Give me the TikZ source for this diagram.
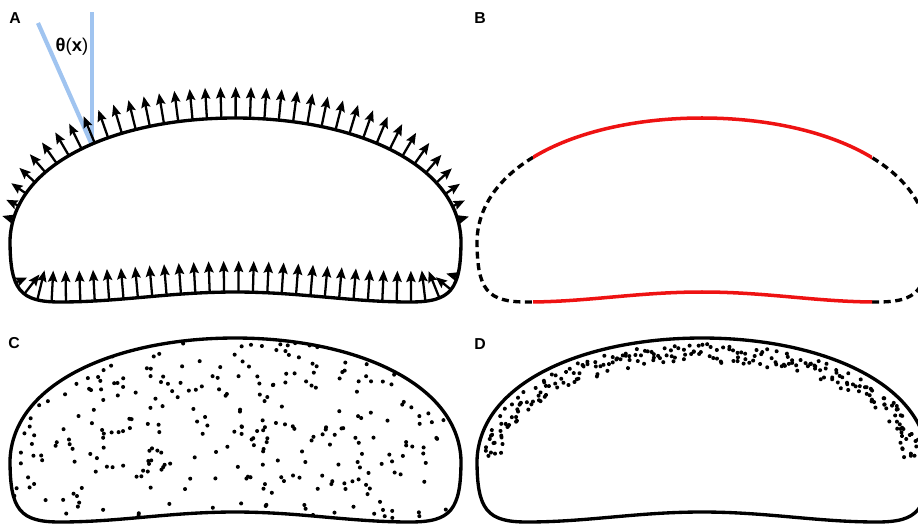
\documentclass[tikz,border=0pt]{standalone}
\usepackage{fontspec}
\setmainfont{Liberation Sans}
\usetikzlibrary{arrows.meta,decorations.markings}

\definecolor{angleblue}{RGB}{160,196,240}
\definecolor{edgered}{RGB}{238,18,18}

\newcommand{\beanpath}{(10,-240) .. controls (10,-290) and (20,-302) .. (60,-302)
  .. controls (120,-302) and (170,-292) .. (235,-292)
  .. controls (300,-292) and (350,-302) .. (410,-302)
  .. controls (451,-302) and (461,-290) .. (461,-240)
  .. controls (458,-162) and (352,-118) .. (235,-118)
  .. controls (118,-118) and (13,-162) .. (10,-240) -- cycle}

\begin{document}
\begin{tikzpicture}[
  x=0.02cm,y=0.02cm,
  outline/.style={line width=1.9pt},
  boundarydash/.style={line width=1.9pt,dash pattern=on 4pt off 2.6pt},
  redline/.style={line width=2pt,draw=edgered},
  anglline/.style={line width=2.4pt,draw=angleblue},
  normarrow/.style={line width=1.3pt,-{Stealth[length=6.4pt,width=5.2pt,inset=1pt]}},
  panellabel/.style={font=\bfseries\fontsize{9}{10}\selectfont},
  normals/.style={decoration={markings,
    mark=between positions 0 and 1 step 8.2pt with {
      \pgfgettransformentries{\tfa}{\tfb}{\tfc}{\tfd}{\tfx}{\tfy}
      \pgfmathtruncatemacro\okay{abs(\tfd)>0.2}
      \ifnum\okay=1
        \pgfmathsetmacro\alen{\tfd>0 ? max(17.8*\tfd,6.6) : min(17.8*\tfd,-6.6)}
        \draw[normarrow] (0pt,0pt) -- (0pt,\alen pt);
      \fi}},
    postaction={decorate}},
  banddots/.style={decoration={markings,
    mark=between positions 0.01 and 0.99 step 1.3pt with {
      \pgfmathsetmacro\dj{2*rand}
      \pgfmathsetmacro\dn{-3.5-10.5*rnd}
      \fill (\dj pt,\dn pt) circle (1.15pt);}},
    postaction={decorate}}
]
\useasboundingbox (0,0) rectangle (918,-524);
\clip (0,0) rectangle (918,-524);
\pgfmathsetseed{11}

\node[panellabel] (labA) at (15,-18) {A};
\node[panellabel] (labB) at (480,-18) {B};
\node[panellabel] (labC) at (14,-343) {C};
\node[panellabel] (labD) at (480,-344) {D};

\coordinate (thetafoot) at (92,-145);
\coordinate (thetatilt) at (38,-23);
\coordinate (thetavert) at (92,-12);
\draw[anglline] (thetafoot) -- (thetatilt);
\draw[anglline] (thetafoot) -- (thetavert);
\node[font=\fontsize{10.5}{12}\selectfont] (thetalab) at (72,-47) {\textbf{θ}(\textbf{x})};

\path[normals] \beanpath;
\draw[outline] \beanpath;

\begin{scope}[shift={(467,0)}]
  \begin{scope}
    \clip (0,-100) rectangle (66,-320) (405,-100) rectangle (480,-320);
    \draw[boundarydash] \beanpath;
  \end{scope}
  \begin{scope}
    \clip (66,-100) rectangle (405,-320);
    \draw[redline] \beanpath;
  \end{scope}
\end{scope}

\begin{scope}[shift={(0,-220)}]
  \draw[outline] \beanpath;
  \begin{scope}
    \clip \beanpath;
    \foreach \k in {1,...,330} {
      \pgfmathsetmacro\px{14+443*rnd}
      \pgfmathsetmacro\py{-122-176*rnd}
      \fill (\px,\py) circle (1.15pt);
    }
  \end{scope}
\end{scope}

\begin{scope}[shift={(467,-220)}]
  \draw[outline] \beanpath;
  \path[banddots] (10,-240) .. controls (13,-162) and (118,-118) .. (235,-118)
    .. controls (352,-118) and (458,-162) .. (461,-240);
\end{scope}
\end{tikzpicture}
\end{document}
